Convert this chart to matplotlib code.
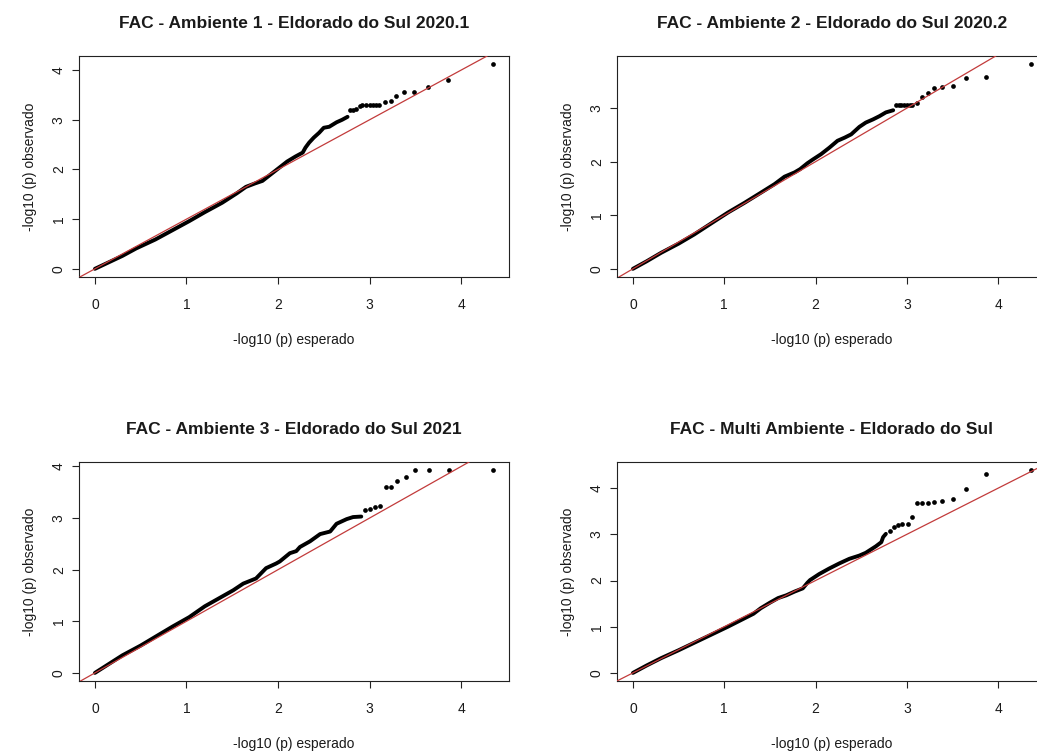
import matplotlib
matplotlib.use("Agg")
import matplotlib.pyplot as plt
from matplotlib.ticker import MultipleLocator

plt.rcParams["font.family"] = ["Liberation Sans", "DejaVu Sans"]

titles = [
    "FAC - Ambiente 1 - Eldorado do Sul 2020.1",
    "FAC - Ambiente 2 - Eldorado do Sul 2020.2",
    "FAC - Ambiente 3 - Eldorado do Sul 2021",
    "FAC - Multi Ambiente - Eldorado do Sul",
]
xlabel = "-log10 (p) esperado"
ylabel = "-log10 (p) observado"

# dense part of each QQ curve (expected, observed)
body1_exp = [0.0, 0.15, 0.30, 0.45, 0.66, 0.85, 1.03, 1.20, 1.39, 1.55, 1.65, 1.75, 1.83, 1.92,
             2.01, 2.10, 2.19, 2.27, 2.30, 2.34, 2.39, 2.45, 2.50, 2.56, 2.64, 2.70, 2.76]
body1_obs = [0.0, 0.13, 0.26, 0.41, 0.59, 0.78, 0.96, 1.14, 1.33, 1.52, 1.65, 1.72, 1.77, 1.90,
             2.03, 2.16, 2.26, 2.34, 2.44, 2.54, 2.64, 2.74, 2.84, 2.86, 2.95, 3.00, 3.06]
# sparse upper tail
tail1_exp = [2.79, 2.82, 2.85, 2.90, 2.92, 2.96, 3.00, 3.04, 3.07, 3.10, 3.17, 3.23, 3.29,
             3.38, 3.49, 3.64, 3.86, 4.35]
tail1_obs = [3.20, 3.20, 3.21, 3.28, 3.30, 3.30, 3.30, 3.30, 3.30, 3.30, 3.36, 3.37, 3.47,
             3.56, 3.56, 3.66, 3.81, 4.12]

body2_exp = [0.0, 0.15, 0.31, 0.50, 0.67, 0.85, 1.04, 1.22, 1.40, 1.55, 1.66, 1.77, 1.83, 1.91,
             1.97, 2.06, 2.15, 2.24, 2.32, 2.39, 2.48, 2.55, 2.63, 2.70, 2.77, 2.85]
body2_obs = [0.0, 0.14, 0.30, 0.47, 0.64, 0.84, 1.05, 1.23, 1.42, 1.58, 1.72, 1.80, 1.86, 1.97,
             2.04, 2.14, 2.26, 2.39, 2.45, 2.51, 2.65, 2.73, 2.79, 2.85, 2.92, 2.96]
tail2_exp = [2.88, 2.91, 2.94, 2.97, 3.00, 3.03, 3.06, 3.11, 3.17, 3.23, 3.30, 3.39, 3.50,
             3.65, 3.87, 4.36]
tail2_obs = [3.06, 3.06, 3.06, 3.05, 3.05, 3.06, 3.06, 3.09, 3.21, 3.28, 3.37, 3.39, 3.41,
             3.56, 3.59, 3.82]

body3_exp = [0.0, 0.15, 0.30, 0.50, 0.67, 0.85, 1.03, 1.20, 1.40, 1.51, 1.62, 1.76, 1.87, 1.98,
             2.02, 2.13, 2.20, 2.24, 2.35, 2.46, 2.57, 2.64, 2.75, 2.82, 2.91]
body3_obs = [0.0, 0.17, 0.34, 0.53, 0.71, 0.90, 1.08, 1.29, 1.49, 1.60, 1.73, 1.83, 2.03, 2.12,
             2.16, 2.32, 2.36, 2.44, 2.55, 2.69, 2.74, 2.89, 2.98, 3.02, 3.03]
tail3_exp = [2.95, 3.00, 3.06, 3.11, 3.18, 3.23, 3.30, 3.40, 3.50, 3.65, 3.87, 4.35]
tail3_obs = [3.15, 3.18, 3.21, 3.24, 3.60, 3.60, 3.72, 3.79, 3.93, 3.93, 3.93, 3.93]

body4_exp = [0.0, 0.15, 0.31, 0.50, 0.68, 0.85, 1.04, 1.22, 1.32, 1.40, 1.50, 1.59, 1.68, 1.77,
             1.86, 1.91, 1.94, 2.04, 2.15, 2.26, 2.37, 2.48, 2.55, 2.66, 2.72, 2.74, 2.77]
body4_obs = [0.0, 0.16, 0.32, 0.49, 0.66, 0.82, 1.00, 1.18, 1.28, 1.40, 1.52, 1.62, 1.68, 1.76,
             1.83, 1.95, 2.01, 2.14, 2.26, 2.37, 2.47, 2.54, 2.60, 2.74, 2.83, 2.94, 3.01]
tail4_exp = [2.81, 2.86, 2.90, 2.95, 3.01, 3.06, 3.11, 3.17, 3.23, 3.30, 3.39, 3.50, 3.65,
             3.87, 4.36]
tail4_obs = [3.08, 3.15, 3.20, 3.23, 3.23, 3.37, 3.68, 3.68, 3.68, 3.71, 3.73, 3.76, 3.98,
             4.31, 4.39]

panels = [
    (body1_exp, body1_obs, tail1_exp, tail1_obs),
    (body2_exp, body2_obs, tail2_exp, tail2_obs),
    (body3_exp, body3_obs, tail3_exp, tail3_obs),
    (body4_exp, body4_obs, tail4_exp, tail4_obs),
]

W, H = 1037, 752
fig = plt.figure(figsize=(W / 100, H / 100), dpi=100, facecolor="white")

# axes boxes in pixels: left, top, width, height
boxes = [(79, 56, 430, 221), (617, 56, 430, 221), (79, 462, 430, 219), (617, 462, 430, 219)]


def r_lim(vals):
    lo, hi = min(vals), max(vals)
    span = hi - lo
    return lo - 0.04 * span, hi + 0.04 * span


txt = "#1a1a1a"
for (bx, by, bw, bh), title, (bex, beo, tex, teo) in zip(boxes, titles, panels):
    ax = fig.add_axes([bx / W, 1 - (by + bh) / H, bw / W, bh / H])
    ax.plot(bex, beo, "-", color="black", lw=2.8, solid_capstyle="round",
            solid_joinstyle="round", zorder=2)
    ax.plot(tex, teo, "o", color="black", ms=3.4, mew=0, zorder=2)
    ax.axline((0, 0), slope=1, color="#c23b3b", lw=0.9, zorder=3)

    ax.set_xlim(*r_lim(bex + tex))
    ax.set_ylim(*r_lim(beo + teo))
    ax.xaxis.set_major_locator(MultipleLocator(1))
    ax.yaxis.set_major_locator(MultipleLocator(1))

    for s in ax.spines.values():
        s.set_linewidth(0.8)
        s.set_color("#222222")
    ax.tick_params(length=5, width=0.8, color="#222222", labelsize=10, labelcolor=txt)
    ax.tick_params(axis="x", pad=10)
    ax.tick_params(axis="y", pad=4.5, labelrotation=90)
    for lab in ax.get_yticklabels():
        lab.set_va("center")

    ax.set_title(title, fontsize=12.5, fontweight="bold", color=txt, pad=20)
    ax.set_xlabel(xlabel, fontsize=10, color=txt, labelpad=15)
    ax.set_ylabel(ylabel, fontsize=10, color=txt, labelpad=10.5)

fig.savefig("out.png", dpi=100)
